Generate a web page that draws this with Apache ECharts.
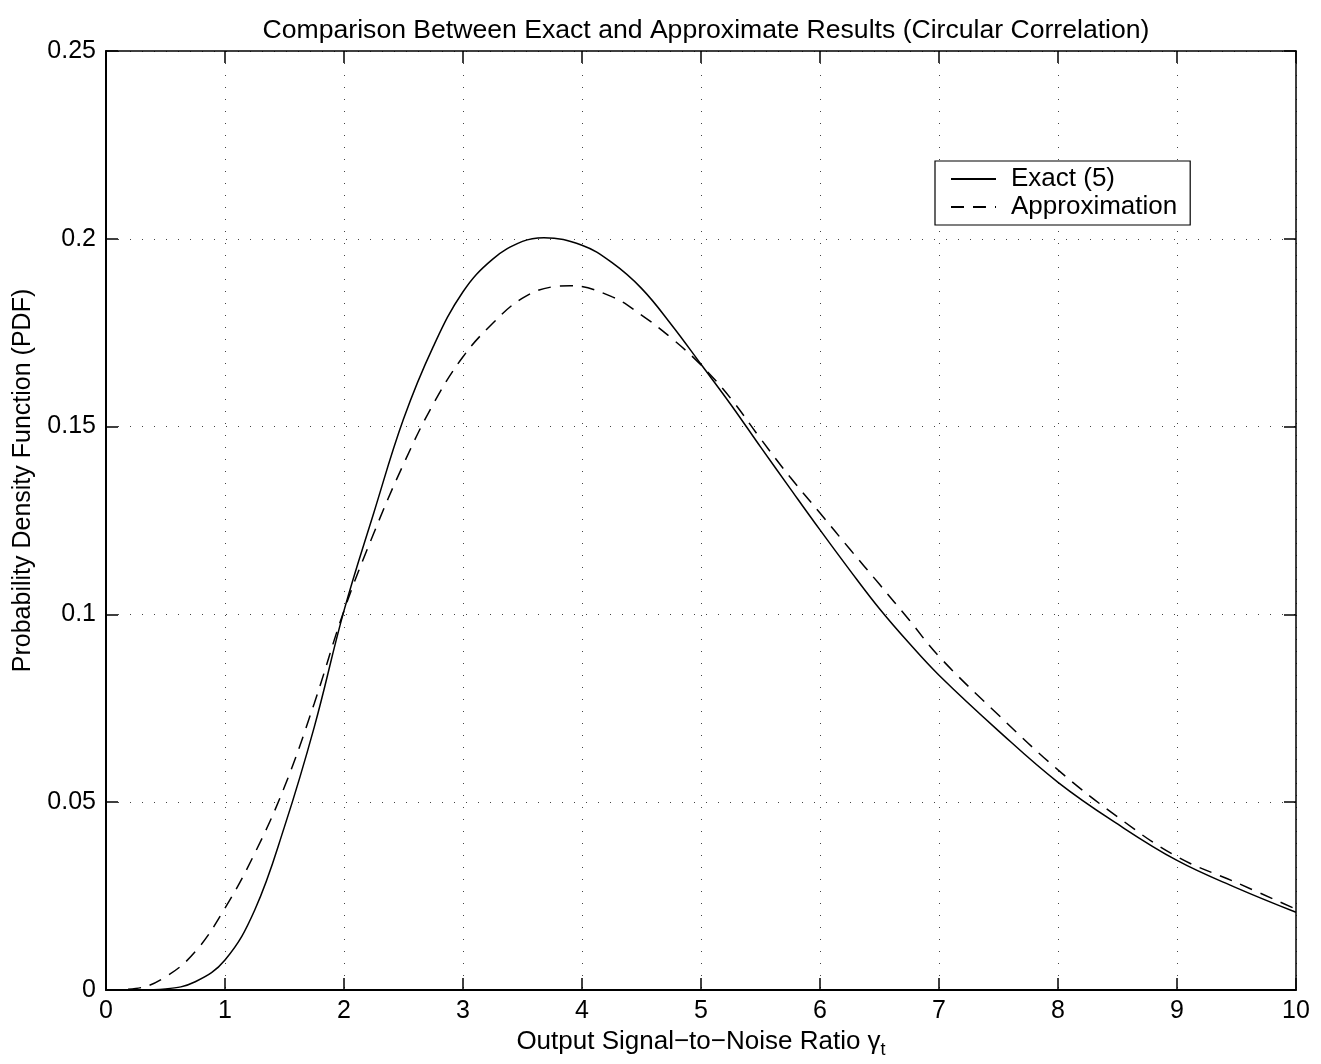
<!DOCTYPE html>
<html>
<head>
<meta charset="utf-8">
<script src="https://cdn.jsdelivr.net/npm/echarts@6/dist/echarts.min.js"></script>
<style>
html,body{margin:0;padding:0;background:#fff;}
#chart{width:1321px;height:1064px;}
</style>
</head>
<body>
<div id="chart"></div>
<script>
const xExact = [0, 0.25, 0.5, 0.75, 1, 1.25, 1.5, 1.75, 2, 2.25, 2.5, 2.75, 3, 3.25, 3.5, 3.68, 4, 4.25, 4.5, 4.75, 5, 5.25, 5.5, 5.75, 6, 6.25, 6.5, 6.75, 7, 7.5, 8, 8.5, 9, 9.5, 10];
const yExact = [0, 0.00002, 0.0003, 0.0022, 0.008, 0.0213, 0.0435, 0.070, 0.101, 0.127, 0.152, 0.1713, 0.1859, 0.1946, 0.1993, 0.2003, 0.1983, 0.1937, 0.1868, 0.1772, 0.1666, 0.1559, 0.1446, 0.1335, 0.1225, 0.1118, 0.1015, 0.0923, 0.0838, 0.0690, 0.0553, 0.0442, 0.0345, 0.0272, 0.0207];
const xApprox = [0, 0.25, 0.5, 0.75, 1, 1.25, 1.5, 1.75, 2, 2.25, 2.5, 2.75, 3, 3.25, 3.5, 3.75, 3.9, 4.25, 4.5, 4.75, 5, 5.25, 5.5, 5.75, 6, 6.25, 6.5, 6.75, 7, 7.5, 8, 8.5, 9, 9.5, 10];
const yApprox = [0, 0.0004, 0.0035, 0.0102, 0.0218, 0.0364, 0.0541, 0.0763, 0.101, 0.1216, 0.140, 0.156, 0.1686, 0.1775, 0.1842, 0.1872, 0.1875, 0.1846, 0.1797, 0.1736, 0.1664, 0.1575, 0.1468, 0.1365, 0.1270, 0.1174, 0.1080, 0.0985, 0.0888, 0.0732, 0.0586, 0.0461, 0.0355, 0.0286, 0.0215];
const seriesNames = ['Exact (5)', 'Approximation'];
const titleText = 'Comparison Between Exact and Approximate Results (Circular Correlation)';
const xLabel = 'Output Signal\u2212to\u2212Noise Ratio \u03b3';
const xLabelSub = 't';
const yLabel = 'Probability Density Function (PDF)';

const font = 'Liberation Sans, Arial, Helvetica, sans-serif';
const zip = (xs, ys) => xs.map((x, i) => [x, ys[i]]);

const chart = echarts.init(document.getElementById('chart'), null, {renderer: 'canvas'});
const gridLine = {show: true, lineStyle: {color: '#444', type: [1, 11], width: 1}};
chart.setOption({
  animation: false,
  backgroundColor: '#fff',
  title: {
    text: titleText, left: 701, top: 12, textAlign: 'center',
    textStyle: {fontFamily: font, fontSize: 26.6, fontWeight: 'normal', color: '#000'}
  },
  grid: {left: 106, right: 25, top: 51, bottom: 74, containLabel: false, outerBoundsMode: 'none'},
  legend: {
    left: 935, top: 161, orient: 'vertical',
    data: [
      {name: seriesNames[0]},
      {name: seriesNames[1]}
    ],
    itemWidth: 45, itemHeight: 14, itemGap: 2,
    padding: [5, 13, 5, 15],
    borderColor: '#000', borderWidth: 1.2, backgroundColor: '#fff', borderRadius: 0,
    itemStyle: {opacity: 0},
    textStyle: {fontFamily: font, fontSize: 26, color: '#000', padding: [0, 0, 0, 10]}
  },
  xAxis: [{
    type: 'value', min: 0, max: 10, interval: 1, position: 'bottom',
    axisLine: {show: true, onZero: false, lineStyle: {color: '#000', width: 2}},
    axisTick: {show: true, inside: true, length: 12, lineStyle: {color: '#000', width: 1.5}},
    axisLabel: {fontFamily: font, fontSize: 25, color: '#000', margin: 9},
    splitLine: gridLine,
    name: '{a|' + xLabel + '}{b|' + xLabelSub + '}', nameLocation: 'middle', nameGap: 34,
    nameTextStyle: {rich: {
      a: {fontFamily: font, fontSize: 26, color: '#000'},
      b: {fontFamily: font, fontSize: 18, color: '#000', verticalAlign: 'bottom', padding: [16, 0, 0, 0]}
    }}
  }, {
    type: 'value', min: 0, max: 10, interval: 1, position: 'top',
    axisLine: {show: true, onZero: false, lineStyle: {color: '#000', width: 1.5}},
    axisTick: {show: true, inside: true, length: 12, lineStyle: {color: '#000', width: 1.5}},
    axisLabel: {show: false}, splitLine: {show: false}
  }],
  yAxis: [{
    type: 'value', min: 0, max: 0.25, interval: 0.05, position: 'left',
    axisLine: {show: true, onZero: false, lineStyle: {color: '#000', width: 2}},
    axisTick: {show: true, inside: true, length: 12, lineStyle: {color: '#000', width: 1.5}},
    axisLabel: {fontFamily: font, fontSize: 25, color: '#000', margin: 10},
    splitLine: gridLine,
    name: yLabel, nameLocation: 'middle', nameGap: 70,
    nameTextStyle: {fontFamily: font, fontSize: 25, color: '#000', padding: [0, 0, 0, 80]}
  }, {
    type: 'value', min: 0, max: 0.25, interval: 0.05, position: 'right',
    axisLine: {show: true, onZero: false, lineStyle: {color: '#000', width: 1.5}},
    axisTick: {show: true, inside: true, length: 12, lineStyle: {color: '#000', width: 1.5}},
    axisLabel: {show: false}, splitLine: {show: false}
  }],
  series: [{
    name: seriesNames[0], type: 'line', data: zip(xExact, yExact), smooth: 0.4,
    showSymbol: false, symbol: 'none',
    lineStyle: {color: '#000', width: 1.5, type: 'solid'},
    itemStyle: {color: '#000'}
  }, {
    name: seriesNames[1], type: 'line', data: zip(xApprox, yApprox), smooth: 0.4,
    showSymbol: false, symbol: 'none',
    lineStyle: {color: '#000', width: 1.5, type: [13, 9]},
    itemStyle: {color: '#000'}
  }]
});
</script>
</body>
</html>
